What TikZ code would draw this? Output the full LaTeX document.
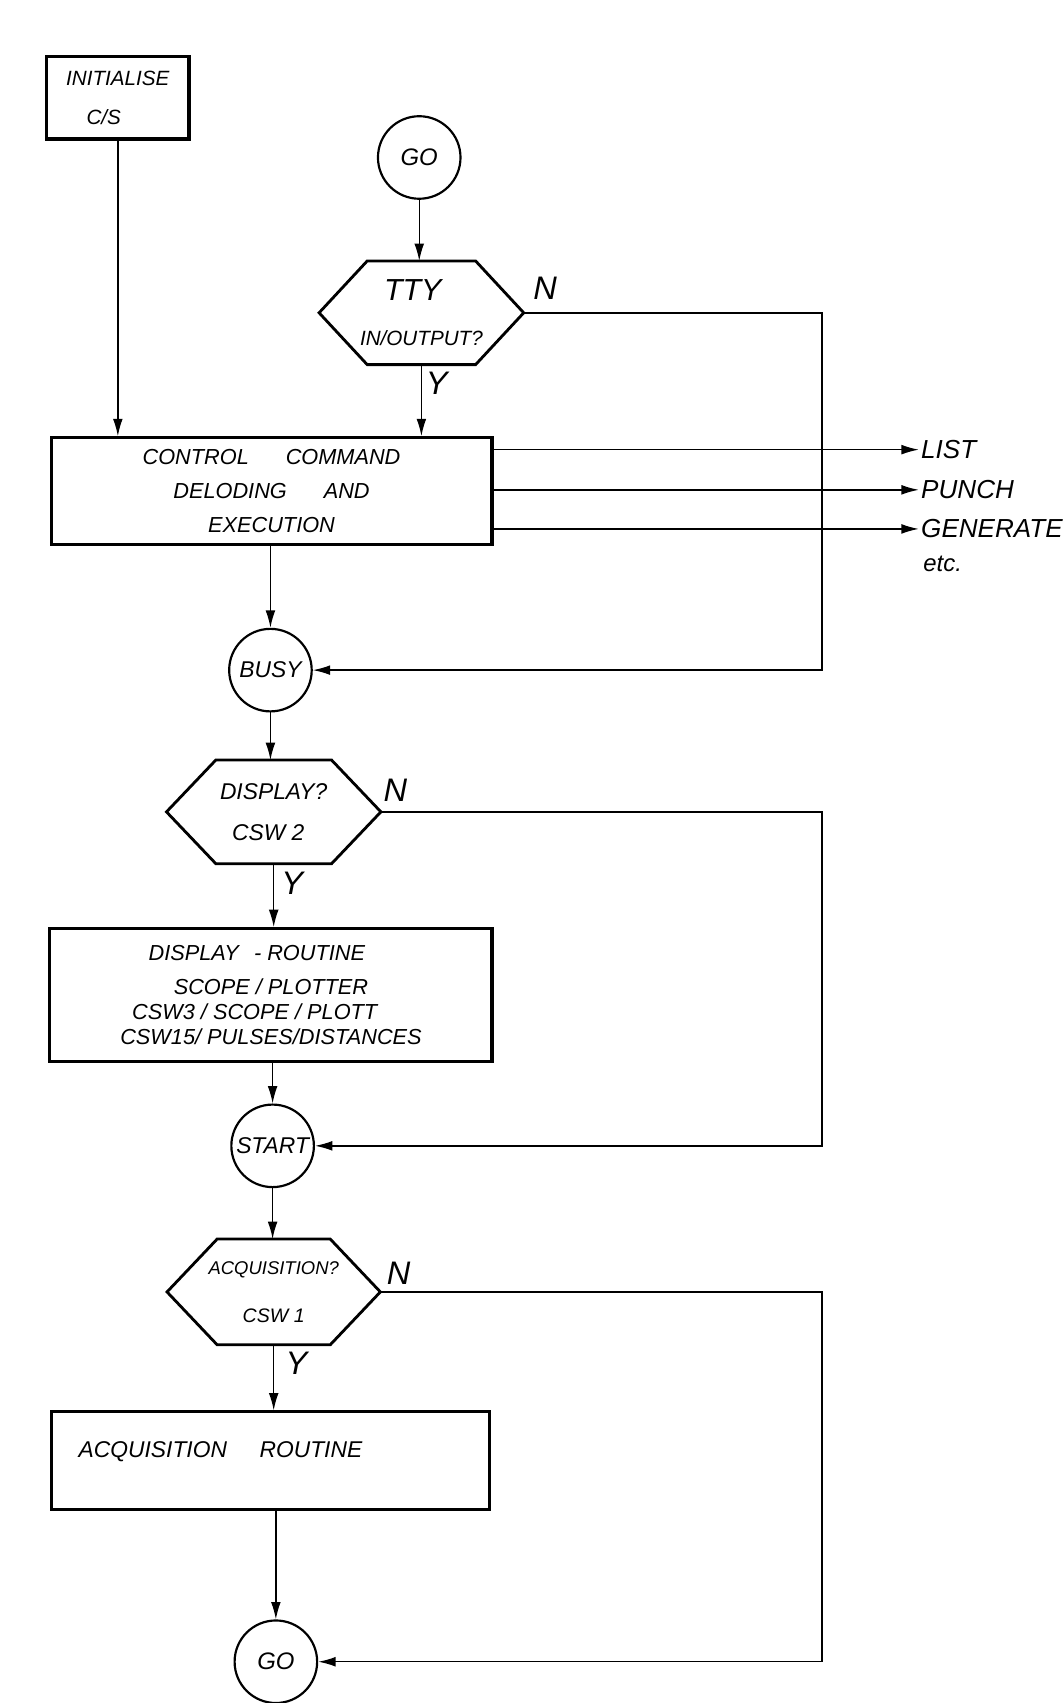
\documentclass[tikz,border=0pt]{standalone}
\usepackage{fontspec}
\setmainfont{Liberation Sans}
\usetikzlibrary{arrows.meta,calc}
\newcommand\hexdraw[2]{%
  \draw[hexline] (#1.west) -- ($(#1.north west)!#2!(#1.north east)$) -- ($(#1.north east)!#2!(#1.north west)$) -- (#1.east) -- ($(#1.south east)!#2!(#1.south west)$) -- ($(#1.south west)!#2!(#1.south east)$) -- cycle;}
\newcommand\fs[2]{\fontsize{#1}{#2}\selectfont}
\begin{document}
\begin{tikzpicture}[x=1pt,y=-1pt,
  procbox/.style={draw, rectangle, line width=2.8pt, inner sep=0pt, align=center, font=\itshape\fs{20}{31}},
  term/.style={circle, draw, line width=2pt, minimum size=76pt, inner sep=0pt, font=\itshape\fs{21}{24}},
  hexbox/.style={rectangle, inner sep=0pt, align=center, font=\itshape\fs{20}{38}},
  hexline/.style={draw, line width=2.6pt, line join=miter},
  conn/.style={draw, line width=1.3pt},
  arr/.style={conn, -{Latex[length=16pt,width=9pt]}},
  yn/.style={font=\itshape\fs{30}{30}, inner sep=0pt},
  outlbl/.style={font=\itshape\fs{24}{24}, anchor=west, inner sep=2pt}]
\fill[white] (0,0) rectangle (979,1568);
\useasboundingbox (0,0) rectangle (979,1568);
\coordinate (rail) at (757,0);

% nodes
\node[procbox, minimum width=131pt, minimum height=76pt, font=\itshape\fs{19}{36}] (init) at (108.5,90) {INITIALISE\\\hspace*{-26pt}C/S};
\node[term, font=\itshape\fs{22}{24}] (go1) at (386,145) {GO};
\node[hexbox, minimum width=188pt, minimum height=95pt] (tty) at (388,288) {\hspace*{-16pt}{\fs{28}{30}TTY}\\[4pt]{\fs{19}{20}IN/OUTPUT?}};
\hexdraw{tty}{0.235}
\node[procbox, minimum width=406pt, minimum height=98pt] (ctrl) at (250,452) {CONTROL\hspace{34pt}COMMAND\\DELODING\hspace{34pt}AND\\EXECUTION};
\node[outlbl] (list) at (846,414) {LIST};
\node[outlbl] (punch) at (846,451) {PUNCH};
\node[outlbl] (gen) at (846,487) {GENERATE};
\node[outlbl, font=\itshape\fs{22}{22}] (etc) at (848,519) {etc.};
\node[term] (busy) at (249,617) {BUSY};
\node[hexbox, minimum width=197pt, minimum height=95pt] (disp) at (252,747.5) {{\fs{21}{24}DISPLAY?}\\{\fs{21}{24}\hspace*{-10pt}CSW 2}};
\hexdraw{disp}{0.23}
\node[procbox, minimum width=407pt, minimum height=122pt, font=\itshape\fs{20}{23}] (droutine) at (249.5,916) {\hspace*{-26pt}DISPLAY\hspace{14pt}- ROUTINE\\[8pt] SCOPE / PLOTTER\\\hspace*{-30pt}CSW3 / SCOPE / PLOTT\\CSW15/ PULSES/DISTANCES};
\node[term] (start) at (251,1055) {START};
\node[hexbox, minimum width=196pt, minimum height=97pt] (acq) at (252,1189.5) {{\fs{17}{20}ACQUISITION?}\\[6pt]{\fs{18}{20}CSW 1}};
\hexdraw{acq}{0.235}
\node[procbox, minimum width=404pt, minimum height=90pt] (aroutine) at (249,1345) {};
\node[font=\itshape\fs{21}{24}, inner sep=0pt] (acqtxt) at (203,1337) {ACQUISITION\hspace{30pt}ROUTINE};
\node[term, font=\itshape\fs{22}{24}] (go2) at (254,1530) {GO};

% Y / N labels
\node[yn] (n1) at (502,265) {N};
\node[yn] (y1) at (402,353) {Y};
\node[yn] (n2) at (364,728) {N};
\node[yn] (y2) at (269,813) {Y};
\node[yn] (n3) at (367,1172) {N};
\node[yn] (y3) at (273,1255) {Y};

% connectors
\draw[arr] (init.south) -- (init.south |- ctrl.north);
\draw[arr] (go1.south) -- (go1.south |- tty.north);
\draw[arr] (tty.south) -- (tty.south |- ctrl.north);
\draw[arr] (tty.east) -- (tty.east -| rail) |- (busy.east);
\draw[arr] (ctrl.east |- list.west) -- (list.west);
\draw[arr] (ctrl.east |- punch.west) -- (punch.west);
\draw[arr] (ctrl.east |- gen.west) -- (gen.west);
\draw[arr] (ctrl.south -| busy) -- (busy.north);
\draw[arr] (busy.south) -- (busy.south |- disp.north);
\draw[arr] (disp.east) -- (disp.east -| rail) |- (start.east);
\draw[arr] (disp.south) -- (disp.south |- droutine.north);
\draw[arr] (droutine.south -| start) -- (start.north);
\draw[arr] (start.south) -- (start.south |- acq.north);
\draw[arr] (acq.east) -- (acq.east -| rail) |- (go2.east);
\draw[arr] (acq.south) -- (acq.south |- aroutine.north);
\draw[arr] (aroutine.south -| go2) -- (go2.north);
\end{tikzpicture}
\end{document}
